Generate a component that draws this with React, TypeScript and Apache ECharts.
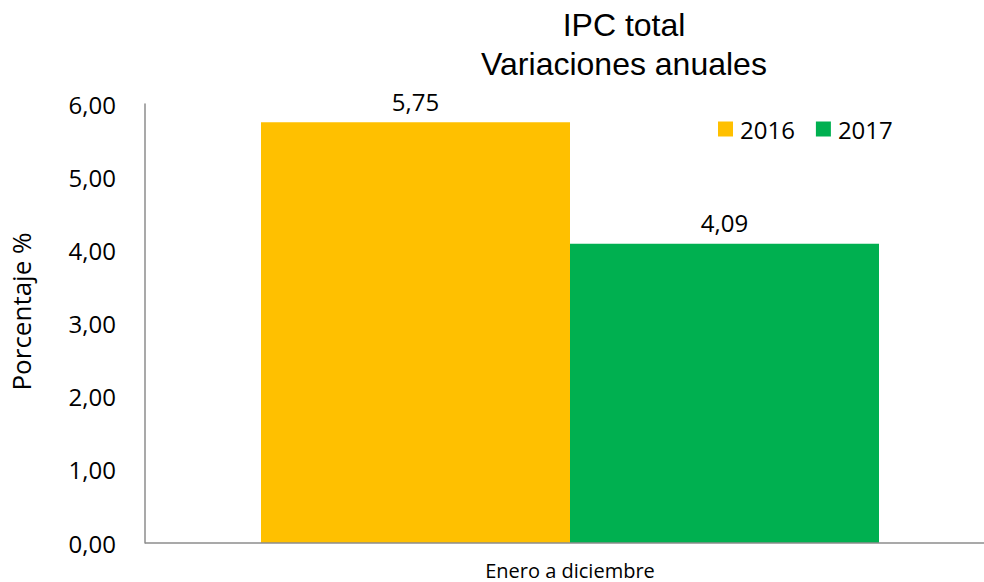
import React, { useEffect, useRef } from "react";
import * as echarts from "echarts";

const categories = ["Enero a diciembre"];
const series2016 = [5.75];
const series2017 = [4.09];
const yTicks = [0, 1, 2, 3, 4, 5, 6];

const fmt = (v: number) => v.toFixed(2).replace(".", ",");

export default function App() {
  const ref = useRef<HTMLDivElement>(null);
  useEffect(() => {
    if (!ref.current) return;
    const chart = echarts.init(ref.current, null, { renderer: "svg" });
    const font = "'Open Sans', 'Noto Sans', sans-serif";
    const axisColor = "#8c8c8c";
    chart.setOption({
      animation: false,
      title: {
        text: "IPC total\nVariaciones anuales",
        left: 619,
        textAlign: "center",
        top: 0,
        textStyle: {
          fontFamily: "'Liberation Sans', Arial, sans-serif",
          fontSize: 32,
          fontWeight: "normal",
          color: "#000",
          lineHeight: 39,
        },
      },
      legend: {
        data: ["2016", "2017"],
        left: 713,
        top: 112,
        icon: "rect",
        itemWidth: 15,
        itemHeight: 15,
        itemGap: 21,
        textStyle: { fontFamily: font, fontSize: 24, color: "#000", padding: [0, 0, 0, 2] },
      },
      grid: { left: 156, top: 104, right: 0, bottom: 39 },
      graphic: [
        {
          type: "line",
          shape: { x1: 145, y1: 543, x2: 984, y2: 543 },
          style: { stroke: axisColor, lineWidth: 1.5 },
          z: 10,
        },
      ],
      xAxis: {
        type: "category",
        data: categories,
        axisLine: { show: false },
        axisTick: { show: false },
        axisLabel: { fontFamily: font, fontSize: 20, lineHeight: 20, color: "#000", margin: 17 },
      },
      yAxis: {
        type: "value",
        min: yTicks[0],
        max: yTicks[yTicks.length - 1],
        interval: 1,
        offset: 11,
        name: "Porcentaje %",
        nameLocation: "middle",
        nameGap: 111,
        nameTextStyle: { fontFamily: font, fontSize: 26, color: "#000", padding: [0, 0, 0, 24] },
        axisLine: { show: true, lineStyle: { color: axisColor, width: 1.5 } },
        axisTick: { show: false },
        splitLine: { show: false },
        axisLabel: {
          fontFamily: font,
          fontSize: 24,
          color: "#000",
          margin: 29,
          formatter: (v: number) => fmt(v),
        },
      },
      series: [
        {
          name: "2016",
          type: "bar",
          data: series2016,
          barWidth: 309,
          barGap: "0%",
          itemStyle: { color: "#FFC000" },
          label: {
            show: true,
            position: "top",
            distance: 9,
            fontFamily: font,
            fontSize: 24,
            color: "#000",
            formatter: (p: any) => fmt(p.value),
          },
        },
        {
          name: "2017",
          type: "bar",
          data: series2017,
          barWidth: 309,
          barGap: "0%",
          itemStyle: { color: "#00B050" },
          label: {
            show: true,
            position: "top",
            distance: 9,
            fontFamily: font,
            fontSize: 24,
            color: "#000",
            formatter: (p: any) => fmt(p.value),
          },
        },
      ],
    });
    return () => chart.dispose();
  }, []);
  return <div ref={ref} style={{ width: 984, height: 582, position: "fixed", left: 0, top: 0, background: "#fff" }} />;
}
